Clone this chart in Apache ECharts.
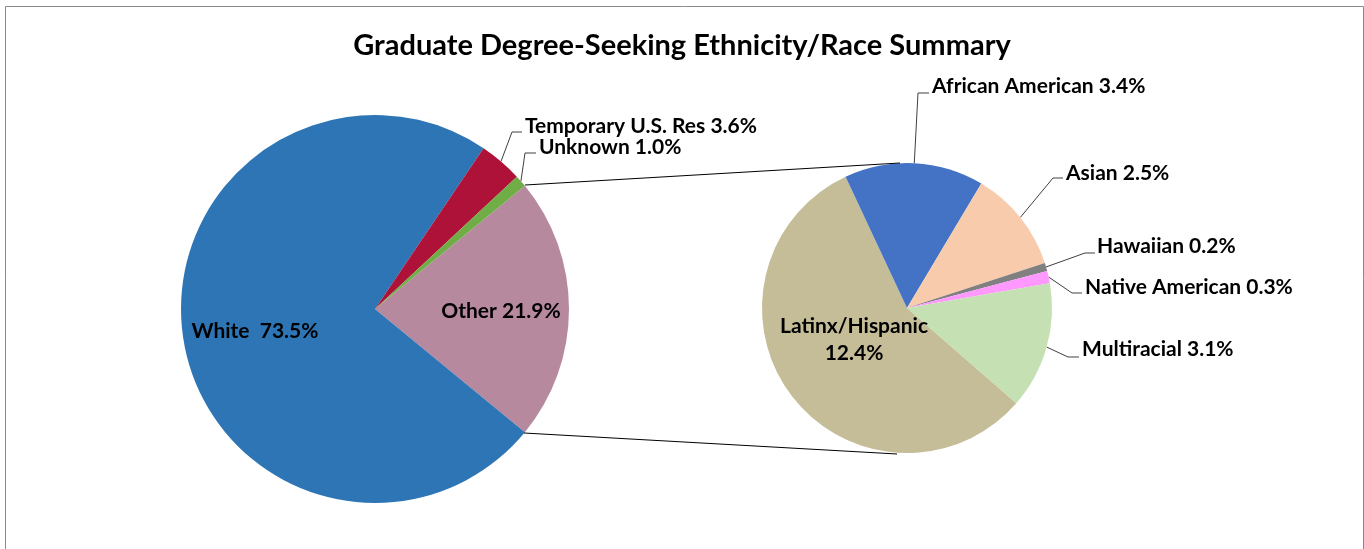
<!DOCTYPE html>
<html>
<head>
<meta charset="utf-8">
<script src="https://cdn.jsdelivr.net/npm/echarts@6/dist/echarts.min.js"></script>
<style>
html,body{margin:0;padding:0;background:#fff;}
#chart{width:1364px;height:549px;}
</style>
</head>
<body>
<div id="chart"></div>
<script>
// ---- data ----
const mainNames = ['Other', 'White', 'Temporary U.S. Res', 'Unknown'];
const mainValues = [21.9, 73.5, 3.6, 1.0];
const subNames = ['Latinx/Hispanic', 'African American', 'Asian', 'Hawaiian', 'Native American', 'Multiracial'];
const subValues = [12.4, 3.4, 2.5, 0.2, 0.3, 3.1];
const mainLabelText = ['Other 21.9%', 'White  73.5%', 'Temporary U.S. Res 3.6%', 'Unknown 1.0%'];
const subLabelText = ['Latinx/Hispanic\n12.4%', 'African American 3.4%', 'Asian 2.5%', 'Hawaiian 0.2%', 'Native American 0.3%', 'Multiracial 3.1%'];

// ---- styles / layout ----
const mainColors = ['#B7899F', '#2E75B6', '#AE1238', '#70AD47'];
const subColors = ['#C4BD97', '#4472C4', '#F8CBAD', '#808080', '#FF99FF', '#C5E0B3'];
const FONT = 'Lato';
const mainLabelPos = [
  {x: 501, y: 311, align: 'center', inside: true},
  {x: 255, y: 331, align: 'center', inside: true},
  {x: 525, y: 126, align: 'left', elbow: [512, 132], end: [522, 132]},
  {x: 539, y: 147, align: 'left', elbow: [525, 153], end: [536, 153]}
];
const subLabelPos = [
  {x: 854, y: 340, align: 'center', inside: true},
  {x: 932, y: 86, align: 'left', elbow: [918, 93], end: [929, 93]},
  {x: 1066, y: 173, align: 'left', elbow: [1053, 178], end: [1063, 178]},
  {x: 1097, y: 246, align: 'left', elbow: [1085, 253], end: [1095, 253]},
  {x: 1085, y: 287, align: 'left', elbow: [1072, 293], end: [1082, 293]},
  {x: 1082, y: 349, align: 'left', elbow: [1068, 357], end: [1079, 357]}
];

function buildData(names, values, colors, texts, pos) {
  return names.map(function (n, i) {
    return {
      name: n,
      value: values[i],
      itemStyle: {color: colors[i]},
      label: {position: pos[i].inside ? 'inside' : 'outside', formatter: texts[i]},
      labelLine: {show: !pos[i].inside}
    };
  });
}
function layoutFn(pos) {
  return function (p) {
    const q = pos[p.dataIndex];
    const r = {x: q.x, y: q.y, align: q.align, verticalAlign: 'middle'};
    if (!q.inside && p.labelLinePoints) {
      r.labelLinePoints = [p.labelLinePoints[0], q.elbow, q.end];
    }
    return r;
  };
}
const labelStyle = {
  show: true, color: '#000', fontFamily: FONT, fontWeight: 'bold', fontSize: 21, lineHeight: 27
};

const chart = echarts.init(document.getElementById('chart'), null, {renderer: 'canvas'});
chart.setOption({
  backgroundColor: '#fff',
  animation: false,
  title: {
    text: 'Graduate Degree-Seeking Ethnicity/Race Summary',
    left: 'center', top: 26,
    textStyle: {fontFamily: FONT, fontWeight: 'bold', fontSize: 29, color: '#000'}
  },
  graphic: [
    {type: 'rect', shape: {x: 5.5, y: 6.5, width: 1358, height: 600}, style: {fill: null, stroke: '#8a8a8a', lineWidth: 1}, silent: true},
    {type: 'line', shape: {x1: 525, y1: 185, x2: 900, y2: 163}, style: {stroke: '#000', lineWidth: 1}, silent: true, z: 10},
    {type: 'line', shape: {x1: 524, y1: 433, x2: 897, y2: 454}, style: {stroke: '#000', lineWidth: 1}, silent: true, z: 10}
  ],
  series: [
    {
      type: 'pie', center: [375, 309], radius: [0, 194], startAngle: 39.42, clockwise: true,
      avoidLabelOverlap: false, minShowLabelAngle: 0,
      label: labelStyle,
      labelLine: {lineStyle: {color: '#404040', width: 1}},
      labelLayout: layoutFn(mainLabelPos),
      itemStyle: {borderWidth: 0},
      emphasis: {disabled: true},
      data: buildData(mainNames, mainValues, mainColors, mainLabelText, mainLabelPos)
    },
    {
      type: 'pie', center: [907, 308], radius: [0, 145], startAngle: -41.1, clockwise: true,
      avoidLabelOverlap: false, minShowLabelAngle: 0,
      label: labelStyle,
      labelLine: {lineStyle: {color: '#404040', width: 1}},
      labelLayout: layoutFn(subLabelPos),
      itemStyle: {borderWidth: 0},
      emphasis: {disabled: true},
      data: buildData(subNames, subValues, subColors, subLabelText, subLabelPos)
    }
  ]
});
</script>
</body>
</html>
